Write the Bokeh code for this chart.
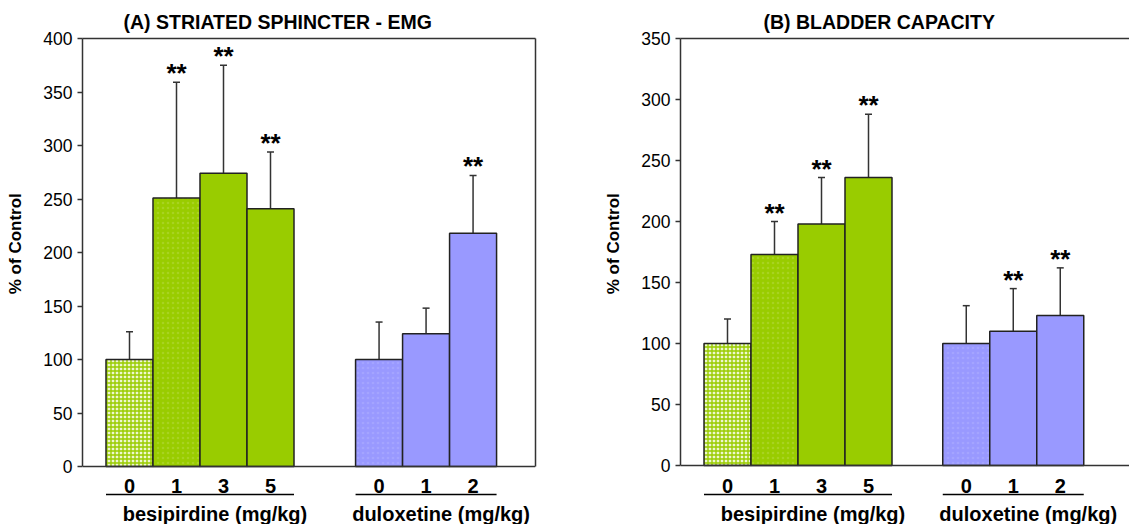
from bokeh.plotting import figure
from bokeh.models import (ColumnDataSource, Whisker, TeeHead, LinearAxis, Range1d,
                          FixedTicker, SingleIntervalTicker, Span)
from bokeh.layouts import row
from bokeh.embed import file_html
from bokeh.resources import INLINE
from bokeh.core.properties import value

FONT = "Liberation Sans"

# ---------------- data ----------------
besi_doses = ["0", "1", "3", "5"]
dulox_doses = ["0", "1", "2"]
group_names = ["besipirdine (mg/kg)", "duloxetine (mg/kg)"]

emg_title = "(A) STRIATED SPHINCTER - EMG"
emg_besi_mean = [100, 251, 274, 241]
emg_besi_sem = [26, 108, 101, 53]
emg_besi_sig = [False, True, True, True]
emg_dulox_mean = [100, 124, 218]
emg_dulox_sem = [35, 24, 54]
emg_dulox_sig = [False, False, True]

bc_title = "(B) BLADDER CAPACITY"
bc_besi_mean = [100, 173, 198, 236]
bc_besi_sem = [20, 27, 38, 52]
bc_besi_sig = [False, True, True, True]
bc_dulox_mean = [100, 110, 123]
bc_dulox_sem = [31, 35, 39]
bc_dulox_sig = [False, True, True]

y_label = "% of Control"

GREEN = "#99CC00"
BLUE = "#9999FF"
DARK = "#333333"


def make_panel(title, mb, sb, gb, md, sd, gd, ymax, ppu, zero_px, dulox_start, width,
               min_left, min_right, title_offset, right_border):
    height = 524
    top_border = 38
    frame_h = height - top_border
    ymin = ymax - frame_h / ppu
    frame_w = width - min_left - min_right
    xmax = frame_w / 47.0

    p = figure(width=width, height=height, x_range=Range1d(0, xmax),
               y_range=Range1d(ymin, ymax), x_axis_type=None,
               output_backend="svg", toolbar_location=None,
               min_border_left=min_left, min_border_right=min_right,
               min_border_top=top_border, min_border_bottom=0,
               title=title)
    p.outline_line_color = None
    p.grid.visible = False
    p.background_fill_color = "white"
    p.border_fill_color = "white"

    p.title.align = "left"
    p.title.offset = title_offset
    p.title.text_font = FONT
    p.title.text_font_size = "19.5px"
    p.title.text_font_style = "bold"
    p.title.text_color = "black"
    p.title.standoff = 11

    ya = p.yaxis[0]
    ya.bounds = (0, ymax)
    ya.ticker = SingleIntervalTicker(interval=50)
    ya.major_tick_out = 5
    ya.major_tick_in = 0
    ya.minor_tick_out = 0
    ya.minor_tick_in = 0
    ya.major_tick_line_width = 1.5
    ya.major_tick_line_color = DARK
    ya.axis_line_width = 1.5
    ya.axis_line_color = DARK
    ya.major_label_text_font = FONT
    ya.major_label_text_font_size = "17.5px"
    ya.major_label_text_color = "black"
    ya.major_label_standoff = 5
    # the frame reaches below zero (for the dose labels); leading no-break
    # spaces lift the centred axis title to the middle of the 0..max span
    ya.axis_label = "\u00a0" * 16 + y_label
    ya.axis_label_text_font = FONT
    ya.axis_label_text_font_size = "17px"
    ya.axis_label_text_font_style = "bold"
    ya.axis_label_text_color = "black"
    ya.axis_label_standoff = 15

    top_ax = LinearAxis(ticker=FixedTicker(ticks=[]), major_tick_out=0, major_tick_in=0,
                        minor_tick_out=0, minor_tick_in=0, major_label_standoff=0,
                        axis_line_width=1.5, axis_line_color=DARK)
    p.add_layout(top_ax, "above")
    if right_border:
        p.extra_y_ranges = {"r": Range1d(ymin, ymax)}
        r_ax = LinearAxis(y_range_name="r", bounds=(0, ymax), ticker=FixedTicker(ticks=[]),
                          major_tick_out=0, major_tick_in=0, minor_tick_out=0,
                          minor_tick_in=0, major_label_standoff=0,
                          axis_line_width=1.5, axis_line_color=DARK)
        p.add_layout(r_ax, "right")

    p.add_layout(Span(location=0, dimension="width", line_color=DARK, line_width=1.5))

    xb = [1 + i for i in range(len(mb))]
    xd = [dulox_start + i for i in range(len(md))]
    xs = xb + xd
    means = list(mb) + list(md)
    uppers = [m + s for m, s in zip(mb, sb)] + [m + s for m, s in zip(md, sd)]
    fills = ["#eef7d0"] + [GREEN] * (len(mb) - 1) + [BLUE] * len(md)
    hatch = ["+", ".", " ", " ", ".", " ", " "]
    hcol = [GREEN, "#c2e060", GREEN, GREEN, "#b8b8ff", BLUE, BLUE]
    hscale = [4.0, 5.0, 4.0, 4.0, 5.0, 4.0, 4.0]
    halpha = [1.0, 0.35, 0.0, 0.0, 0.35, 0.0, 0.0]
    src = ColumnDataSource(dict(x=xs, top=means, upper=uppers, fill=fills, hcol=hcol,
                                hatch=hatch, hscale=hscale, halpha=halpha))
    p.vbar(x="x", top="top", bottom=0, width=1.0, source=src, fill_color="fill",
           line_color="#222222", line_width=1.5, hatch_pattern="hatch",
           hatch_color="hcol", hatch_scale="hscale", hatch_alpha="halpha",
           hatch_weight=1.4)

    wk = Whisker(source=src, base="x", lower="top", upper="upper",
                 line_color=DARK, line_width=1.5, lower_head=None,
                 upper_head=TeeHead(size=7, line_color=DARK, line_width=1.5))
    p.add_layout(wk)

    sig = list(gb) + list(gd)
    sx = [x for x, g in zip(xs, sig) if g]
    sy = [u for u, g in zip(uppers, sig) if g]
    p.text(x=sx, y=sy, text=["**"] * len(sx), text_font=value(FONT),
           text_font_style="bold", text_font_size="26px", text_align="center",
           text_baseline="middle", y_offset=-9, text_color="black")

    # dose labels below axis
    cat_y = -(485 - zero_px) / ppu
    labels = list(besi_doses) + list(dulox_doses)
    p.text(x=xs, y=[cat_y] * len(xs), text=labels, text_font=value(FONT),
           text_font_style="bold", text_font_size="20px", text_align="center",
           text_baseline="middle", text_color="black")

    line_y = -(494 - zero_px) / ppu
    p.segment(x0=[xb[0] - 0.5, xd[0] - 0.5], x1=[xb[-1] + 0.5, xd[-1] + 0.5],
              y0=[line_y, line_y], y1=[line_y, line_y], line_color="black",
              line_width=1.5)

    grp_y = -(513 - zero_px) / ppu
    gx = [(xb[0] + xb[-1]) / 2.0, (xd[0] + xd[-1]) / 2.0]
    p.text(x=gx, y=[grp_y, grp_y], text=group_names, text_font=value(FONT),
           text_font_style="bold", text_font_size="20px", text_align="center",
           text_baseline="middle", x_offset=15, text_color="black")
    return p


p1 = make_panel(emg_title, emg_besi_mean, emg_besi_sem, emg_besi_sig,
                emg_dulox_mean, emg_dulox_sem, emg_dulox_sig,
                ymax=400, ppu=428 / 400.0, zero_px=466, dulox_start=6.31, width=545,
                min_left=82, min_right=10, title_offset=41, right_border=True)
p2 = make_panel(bc_title, bc_besi_mean, bc_besi_sem, bc_besi_sig,
                bc_dulox_mean, bc_dulox_sem, bc_dulox_sig,
                ymax=350, ppu=427 / 350.0, zero_px=465, dulox_start=6.08, width=584,
                min_left=135, min_right=0, title_offset=83, right_border=False)

layout = row(p1, p2)
open("out.html", "w").write(file_html(layout, INLINE))
